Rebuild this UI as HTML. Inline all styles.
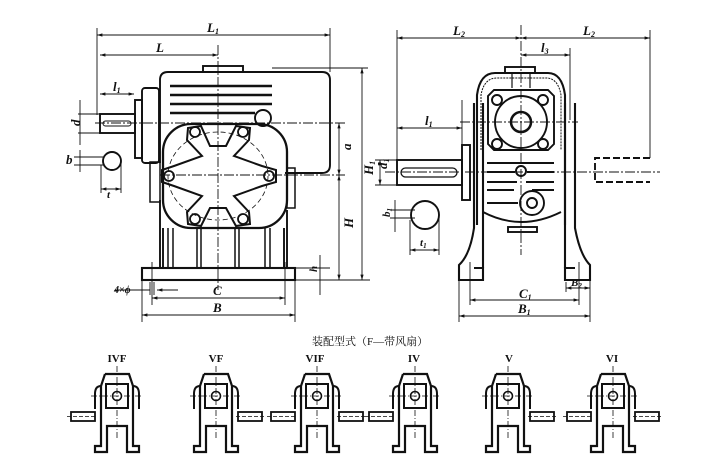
<!DOCTYPE html>
<html><head><meta charset="utf-8"><style>
html,body{margin:0;padding:0;background:#fff}
svg{display:block}
text{font-family:"Liberation Serif","Noto Serif CJK SC",serif;font-style:italic;fill:#111}
.t{font-style:normal}
</style></head><body>
<svg width="718" height="464" viewBox="0 0 718 464" xmlns="http://www.w3.org/2000/svg">
<defs>
<marker id="a" viewBox="0 0 10 10" refX="10" refY="5" markerWidth="6" markerHeight="6" orient="auto-start-reverse"><path d="M0,2 L10,5 L0,8 z" fill="#111"/></marker>
<g id="sv">
 <path d="M-12,0 L12,0 L16,12 L16,30 M-12,0 L-16,12 L-16,30" fill="none" stroke="#111" stroke-width="2.2"/>
 <path d="M-16,12 Q-22,12 -22,20 L-22,35 M16,12 Q22,12 22,20 L22,35" fill="none" stroke="#111" stroke-width="2"/>
 <path d="M-16,30 L-16,72 L-22,72 L-22,78 L-10,78 L-10,52 L10,52 L10,78 L22,78 L22,72 L16,72 L16,30" fill="none" stroke="#111" stroke-width="2.2"/>
 <rect x="-11" y="10" width="22" height="24" fill="none" stroke="#111" stroke-width="2"/>
 <circle cx="0" cy="22" r="4.5" fill="none" stroke="#111" stroke-width="1.6"/>
 <line x1="0" y1="-8" x2="0" y2="65" stroke="#111" stroke-width="0.8" stroke-dasharray="6,2,1,2"/>
 <line x1="-26" y1="22" x2="26" y2="22" stroke="#111" stroke-width="0.8" stroke-dasharray="6,2,1,2"/>
</g>
<g id="shL"><rect x="-46" y="38" width="24" height="9" fill="#fff" stroke="#111" stroke-width="1.8"/><line x1="-50" y1="42.5" x2="-20" y2="42.5" stroke="#111" stroke-width="0.8" stroke-dasharray="4,2"/></g>
<g id="shR"><rect x="22" y="38" width="24" height="9" fill="#fff" stroke="#111" stroke-width="1.8"/><line x1="20" y1="42.5" x2="50" y2="42.5" stroke="#111" stroke-width="0.8" stroke-dasharray="4,2"/></g>
</defs>

<g fill="none" stroke="#111" stroke-width="1.9">
<rect x="100" y="114" width="35" height="19"/>
<rect x="103" y="121" width="28" height="5" rx="2.5" stroke-width="1"/>
<rect x="135" y="100" width="7" height="58"/>
<rect x="142" y="88" width="17" height="75" rx="3"/>
<path d="M160,163 L160,80 Q160,72 168,72 L272,72"/>
<rect x="203" y="66" width="40" height="6"/>
<path d="M170,86 H272 M170,95 H272 M170,104 H272 M170,113 H255" stroke-width="2.6"/>
<circle cx="263" cy="118" r="8"/>
<path d="M272,72 H322 Q330,72 330,80 V165 Q330,173 322,173 H285"/>
<rect x="163" y="124" width="124" height="104" rx="28" stroke-width="2.3"/>
<ellipse cx="218" cy="176" rx="50" ry="44" stroke-width="0.8" stroke-dasharray="5,3"/>
<path d="M188,128 L201,126 L210,146 L226,146 L236,126 L250,128 L249,140 L234,156 L262,166 L276,170 L276,182 L262,186 L234,196 L249,212 L250,224 L236,226 L226,208 L210,208 L201,226 L188,224 L187,212 L202,196 L174,186 L162,182 L162,170 L174,166 L202,156 L187,140 Z" stroke-width="2"/>
<g stroke-width="1.8"><circle cx="195" cy="132" r="5"/><circle cx="243" cy="132" r="5"/><circle cx="169" cy="176" r="5"/><circle cx="269" cy="176" r="5"/><circle cx="195" cy="219" r="5"/><circle cx="243" cy="219" r="5"/></g>
<rect x="150" y="162" width="10" height="40" stroke-width="1.5"/>
<rect x="287" y="168" width="8" height="40" stroke-width="1.5"/>
<path d="M160,200 V268 M163,228 V268 M287,210 V268 M284,228 V268"/>
<path d="M168,228 V268 M173,228 V268 M197,228 V268 M201,228 V268 M235,228 V268 M239,228 V268 M265,228 V268 M270,228 V268" stroke-width="1.5"/>
<rect x="142" y="268" width="153" height="12" stroke-width="2.1"/>
<circle cx="112" cy="161" r="9"/>
</g>

<g stroke="#111" stroke-width="0.9" fill="none">
<line x1="218" y1="45" x2="218" y2="290" stroke-dasharray="10,2,2,2"/>
<line x1="95" y1="123" x2="345" y2="123" stroke-dasharray="10,2,2,2"/>
<line x1="160" y1="175" x2="345" y2="175" stroke-dasharray="10,2,2,2"/>
<line x1="97" y1="28" x2="97" y2="115"/><line x1="330" y1="28" x2="330" y2="72"/>
<line x1="97" y1="35" x2="330" y2="35" marker-start="url(#a)" marker-end="url(#a)"/>
<line x1="100" y1="55" x2="218" y2="55" marker-start="url(#a)" marker-end="url(#a)"/>
<line x1="100" y1="94" x2="134" y2="94" marker-start="url(#a)" marker-end="url(#a)"/>
<line x1="80" y1="100" x2="80" y2="145"/><line x1="78" y1="114" x2="100" y2="114"/><line x1="78" y1="133" x2="100" y2="133"/>
<line x1="74" y1="157" x2="103" y2="157"/><line x1="74" y1="165" x2="103" y2="165"/><line x1="80" y1="150" x2="80" y2="172"/>
<line x1="101" y1="165" x2="101" y2="193"/><line x1="121" y1="161" x2="121" y2="193"/>
<line x1="101" y1="189" x2="121" y2="189" marker-start="url(#a)" marker-end="url(#a)"/>
<line x1="339" y1="123" x2="339" y2="175" marker-start="url(#a)" marker-end="url(#a)"/>
<line x1="339" y1="175" x2="339" y2="280" marker-start="url(#a)" marker-end="url(#a)"/>
<line x1="272" y1="68" x2="368" y2="68"/>
<line x1="362" y1="68" x2="362" y2="280" marker-start="url(#a)" marker-end="url(#a)"/>
<line x1="295" y1="280" x2="370" y2="280"/><line x1="295" y1="268" x2="330" y2="268"/>
<line x1="320" y1="255" x2="320" y2="295"/>
<line x1="115" y1="290" x2="150" y2="290"/><line x1="150" y1="282" x2="150" y2="295"/><line x1="154" y1="282" x2="154" y2="295"/><line x1="157" y1="290" x2="178" y2="290" marker-start="url(#a)"/>
<line x1="152" y1="262" x2="152" y2="305"/><line x1="285" y1="262" x2="285" y2="305"/>
<line x1="152" y1="298" x2="285" y2="298" marker-start="url(#a)" marker-end="url(#a)"/>
<line x1="142" y1="280" x2="142" y2="322"/><line x1="295" y1="280" x2="295" y2="322"/>
<line x1="142" y1="315" x2="295" y2="315" marker-start="url(#a)" marker-end="url(#a)"/>
</g>

<g fill="none" stroke="#111" stroke-width="1.9">
<path d="M477,225 L477,95 Q480,73 495,73 L548,73 Q562,73 565,95 L565,225" stroke-width="2.1"/>
<path d="M481,150 L481,95 Q484,78 497,78 L546,78 Q558,78 561,95 L561,150" stroke-width="1" stroke-dasharray="2,1"/>
<rect x="505" y="67" width="30" height="6"/>
<path d="M512,73 V88 M530,73 V88" stroke-width="1.2"/>
<path d="M494,90 L548,90 L554,96 V144 L548,150 H494 L488,144 V96 Z"/>
<circle cx="521" cy="122" r="26"/>
<circle cx="521" cy="122" r="10" stroke-width="2.5"/>
<circle cx="497" cy="100" r="5"/><circle cx="543" cy="100" r="5"/><circle cx="497" cy="144" r="5"/><circle cx="543" cy="144" r="5"/>
<path d="M487,163 H554 M487,172 H515 M527,172 H554 M487,182 H517 M526,182 H554 M487,190 H514 M532,190 H554 M487,203 H518" stroke-width="2.1"/>
<circle cx="521" cy="171" r="5"/>
<circle cx="532" cy="203" r="12"/><circle cx="532" cy="203" r="5"/>
<path d="M483,212 Q521,232 561,212"/>
<rect x="508" y="227" width="29" height="5"/>
<path d="M483,103 V268 M565,103 V268" stroke-width="2.1"/>
<path d="M474,103 V228 Q470,255 459,265 V280 H483 V268 H474" stroke-width="2.1"/>
<path d="M575,103 V228 Q580,255 590,265 V280 H565 V268 H575" stroke-width="2.1"/>
<rect x="397" y="160" width="65" height="25"/>
<rect x="401" y="168" width="56" height="9" rx="4.5" stroke-width="1.3"/>
<rect x="462" y="145" width="8" height="55"/>
<circle cx="425" cy="215" r="14"/>
<path d="M650,158 H595 V182 H650" stroke-dasharray="7,3"/>
</g>
<g stroke="#111" stroke-width="0.9" fill="none">
<line x1="521" y1="25" x2="521" y2="255" stroke-dasharray="10,2,2,2"/>
<line x1="385" y1="172" x2="660" y2="172" stroke-dasharray="10,2,2,2"/>
<line x1="460" y1="122" x2="578" y2="122" stroke-dasharray="10,2,2,2"/>
<line x1="397" y1="30" x2="397" y2="160"/><line x1="650" y1="30" x2="650" y2="158"/>
<line x1="397" y1="38" x2="521" y2="38" marker-start="url(#a)" marker-end="url(#a)"/>
<line x1="521" y1="38" x2="650" y2="38" marker-start="url(#a)" marker-end="url(#a)"/>
<line x1="570" y1="48" x2="570" y2="120"/>
<line x1="521" y1="55" x2="570" y2="55" marker-start="url(#a)" marker-end="url(#a)"/>
<line x1="462" y1="100" x2="462" y2="145"/>
<line x1="397" y1="128" x2="462" y2="128" marker-start="url(#a)" marker-end="url(#a)"/>
<line x1="375" y1="160" x2="397" y2="160"/><line x1="375" y1="185" x2="397" y2="185"/>
<line x1="380" y1="160" x2="380" y2="185" marker-start="url(#a)" marker-end="url(#a)"/>
<line x1="390" y1="210" x2="415" y2="210"/><line x1="390" y1="218" x2="415" y2="218"/><line x1="395" y1="200" x2="395" y2="232"/>
<line x1="410" y1="220" x2="410" y2="255"/><line x1="439" y1="215" x2="439" y2="255"/>
<line x1="410" y1="250" x2="439" y2="250" marker-start="url(#a)" marker-end="url(#a)"/>
<line x1="470" y1="262" x2="470" y2="305"/><line x1="579" y1="262" x2="579" y2="305"/>
<line x1="470" y1="300" x2="579" y2="300" marker-start="url(#a)" marker-end="url(#a)"/>
<line x1="459" y1="280" x2="459" y2="322"/><line x1="590" y1="280" x2="590" y2="322"/>
<line x1="459" y1="316" x2="590" y2="316" marker-start="url(#a)" marker-end="url(#a)"/>
<line x1="566" y1="282" x2="566" y2="292"/>
<line x1="566" y1="288" x2="590" y2="288" marker-start="url(#a)" marker-end="url(#a)"/>
</g>

<g font-size="13" font-weight="bold">
<text x="207" y="32">L<tspan font-size="8" dy="2">1</tspan></text>
<text x="156" y="52">L</text>
<text x="113" y="91">l<tspan font-size="8" dy="2">1</tspan></text>
<text x="74" y="128" transform="rotate(-90 76 124)">d</text>
<text x="66" y="164">b</text>
<text x="107" y="198" font-size="11">t</text>
<text x="349" y="152" transform="rotate(-90 349 150)">a</text>
<text x="349" y="232" transform="rotate(-90 349 228)">H</text>
<text x="370" y="178" transform="rotate(-90 370 175)">H<tspan font-size="8" dy="2">1</tspan></text>
<text x="313" y="276" transform="rotate(-90 313 272)" font-size="11">h</text>
<text x="114" y="293" font-size="10">4×ϕ</text>
<text x="213" y="295">C</text>
<text x="213" y="312">B</text>
<text x="453" y="35">L<tspan font-size="8" dy="2">2</tspan></text>
<text x="583" y="35">L<tspan font-size="8" dy="2">2</tspan></text>
<text x="541" y="52">l<tspan font-size="8" dy="2">3</tspan></text>
<text x="425" y="125">l<tspan font-size="8" dy="2">1</tspan></text>
<text x="386" y="178" transform="rotate(-90 382 173)">d<tspan font-size="8" dy="2">1</tspan></text>
<text x="383" y="218" transform="rotate(-90 386 214)" font-size="11">b<tspan font-size="7" dy="2">1</tspan></text>
<text x="420" y="246" font-size="11">t<tspan font-size="7" dy="2">1</tspan></text>
<text x="519" y="298">C<tspan font-size="8" dy="2">1</tspan></text>
<text x="518" y="313">B<tspan font-size="8" dy="2">1</tspan></text>
<text x="571" y="286" font-size="11">B<tspan font-size="7" dy="2">2</tspan></text>
</g>
<text class="t" x="312" y="345" font-size="11">装配型式（F—带风扇）</text>
<g font-size="11" text-anchor="middle" font-weight="bold">
<text class="t" x="117" y="362">IVF</text>
<text class="t" x="216" y="362">VF</text>
<text class="t" x="315" y="362">VIF</text>
<text class="t" x="414" y="362">IV</text>
<text class="t" x="509" y="362">V</text>
<text class="t" x="612" y="362">VI</text>
</g>
<g transform="translate(117,374)"><use href="#sv"/><use href="#shL"/></g>
<g transform="translate(216,374)"><use href="#sv"/><use href="#shR"/></g>
<g transform="translate(317,374)"><use href="#sv"/><use href="#shL"/><use href="#shR"/></g>
<g transform="translate(415,374)"><use href="#sv"/><use href="#shL"/></g>
<g transform="translate(508,374)"><use href="#sv"/><use href="#shR"/></g>
<g transform="translate(613,374)"><use href="#sv"/><use href="#shL"/><use href="#shR"/></g>
</svg>
</body></html>
